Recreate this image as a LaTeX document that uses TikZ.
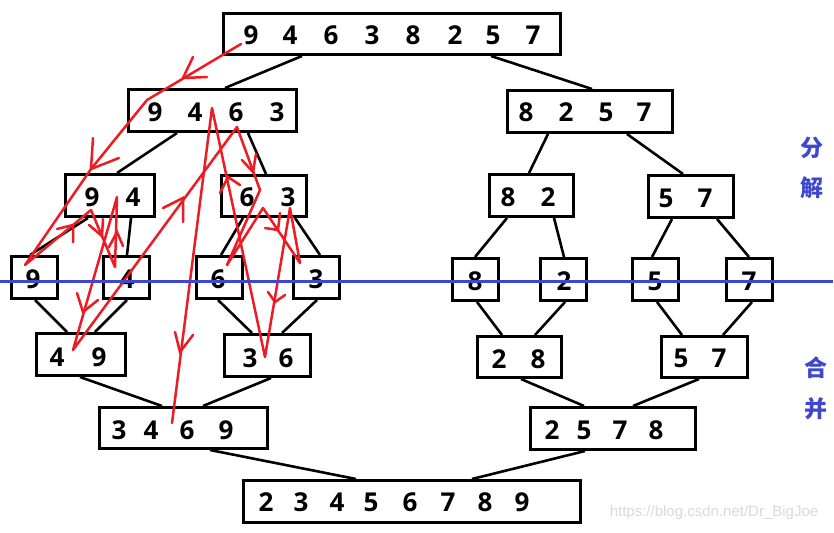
\documentclass[tikz,border=0pt]{standalone}
\usepackage{fontspec}
\setmainfont{Open Sans}
\newfontfamily\numfont{Open Sans}
\newfontfamily\cjkfont{Noto Sans CJK SC}
\newfontfamily\wmfont{Liberation Sans}
\definecolor{pred}{HTML}{ED1C24}
\definecolor{pblue}{HTML}{3F48CC}
\definecolor{wmgray}{HTML}{DADADA}
\newcommand\putdigits[3]{\foreach \d/\x in {#3} {\node[num] (#1\x) at (\x,#2) {\d};}}
\newcommand\chevron[3]{\draw[chev] #1 -- #2 -- #3;}
\begin{document}
\begin{tikzpicture}[x=1pt,y=-1pt,
  box/.style={draw,line width=3pt,inner sep=0pt},
  num/.style={inner sep=0pt,font=\numfont\bfseries\fontsize{26}{26}\selectfont},
  conn/.style={line width=2.6pt},
  trace/.style={pred,line width=2.5pt,line join=round,line cap=round},
  chev/.style={pred,line width=2.5pt,line join=miter,line cap=round},
  han/.style={pblue,inner sep=0pt,font=\cjkfont\bfseries\fontsize{23}{23}\selectfont}]
\useasboundingbox (0,0) rectangle (834,532);
\fill[white] (0,0) rectangle (834,532);

% boxes
\node[box,minimum width=337pt,minimum height=41pt] (top) at (392,34) {};
\node[box,minimum width=168pt,minimum height=42pt] (L) at (212.5,110.5) {};
\node[box,minimum width=165pt,minimum height=42pt] (R) at (590,111.5) {};
\node[box,minimum width=89pt,minimum height=42pt] (b94) at (110,195.5) {};
\node[box,minimum width=85pt,minimum height=41pt] (b63) at (264,196) {};
\node[box,minimum width=84pt,minimum height=42pt] (b82) at (531.5,195.5) {};
\node[box,minimum width=85pt,minimum height=42pt] (b57) at (691,196.5) {};
\node[box,minimum width=46pt,minimum height=42pt] (n9) at (34.5,277.5) {};
\node[box,minimum width=46pt,minimum height=42pt] (n4) at (126.5,277.5) {};
\node[box,minimum width=46pt,minimum height=42pt] (n6) at (219.5,277.5) {};
\node[box,minimum width=46pt,minimum height=42pt] (n3) at (316.5,277.5) {};
\node[box,minimum width=46pt,minimum height=42pt] (n8) at (475.5,279.5) {};
\node[box,minimum width=46pt,minimum height=42pt] (n2) at (563.5,279.5) {};
\node[box,minimum width=46pt,minimum height=42pt] (n5) at (655.5,279.5) {};
\node[box,minimum width=46pt,minimum height=42pt] (n7) at (749.5,279.5) {};
\node[box,minimum width=89pt,minimum height=42pt] (m49) at (81,354.5) {};
\node[box,minimum width=86pt,minimum height=42pt] (m36) at (267.5,355.5) {};
\node[box,minimum width=84pt,minimum height=41pt] (m28) at (519.5,357) {};
\node[box,minimum width=86pt,minimum height=41pt] (m57) at (704.5,357) {};
\node[box,minimum width=168pt,minimum height=41pt] (a3469) at (183.5,428) {};
\node[box,minimum width=165pt,minimum height=42pt] (a2578) at (613,428.5) {};
\node[box,minimum width=337pt,minimum height=42pt] (fin) at (412,501.5) {};

% digits
\putdigits{t}{35.5}{9/251,4/290,6/331,3/372,8/413,2/455,5/493,7/533}
\putdigits{l}{112}{9/155,4/195,6/236,3/277}
\putdigits{r}{112}{8/526,2/566,5/606,7/644}
\putdigits{p}{197}{9/92,4/133,6/247,3/288,8/508,2/548}
\putdigits{q}{198}{5/666,7/705}
\putdigits{s}{279}{9/33,4/127,6/218,3/316}
\putdigits{u}{281}{8/475,2/564,5/655,7/749}
\putdigits{v}{357}{4/57,9/99}
\putdigits{w}{358}{3/250,6/286,5/681,7/719}
\putdigits{x}{359}{2/499,8/538}
\putdigits{y}{430}{3/119,4/151,6/187,9/226,2/552,5/584,7/620,8/656}
\putdigits{z}{502}{2/266,3/301,4/337,5/371,6/410,7/448,8/485,9/522}

% connectors
\draw[conn] ([xshift=-90pt]top.south) -- ([xshift=12.5pt]L.north);
\draw[conn] ([xshift=99pt]top.south) -- ([xshift=2pt]R.north);
\draw[conn] ([xshift=-35.5pt]L.south) -- ([xshift=7pt]b94.north);
\draw[conn] ([xshift=35.5pt]L.south) -- ([xshift=2pt]b63.north);
\draw[conn] ([xshift=-42pt]R.south) -- ([xshift=-2.5pt]b82.north);
\draw[conn] ([xshift=37pt]R.south) -- ([xshift=-8pt]b57.north);
\draw[conn] ([xshift=-22pt]b94.south) -- ([xshift=-4.5pt]n9.north);
\draw[conn] ([xshift=21pt]b94.south) -- ([xshift=0.5pt]n4.north);
\draw[conn] ([xshift=-21pt]b63.south) -- ([xshift=1.5pt]n6.north);
\draw[conn] ([xshift=31pt]b63.south) -- ([xshift=3.5pt]n3.north);
\draw[conn] ([xshift=-24.5pt]b82.south) -- ([xshift=-0.5pt]n8.north);
\draw[conn] ([xshift=22.5pt]b82.south) -- ([xshift=0.5pt]n2.north);
\draw[conn] ([xshift=-19pt]b57.south) -- ([xshift=-3.5pt]n5.north);
\draw[conn] ([xshift=26pt]b57.south) -- ([xshift=-0.5pt]n7.north);
\draw[conn] ([xshift=0.5pt]n9.south) -- ([xshift=-14pt]m49.north);
\draw[conn] ([xshift=0.5pt]n4.south) -- ([xshift=14pt]m49.north);
\draw[conn] ([xshift=-1.5pt]n6.south) -- ([xshift=-15.5pt]m36.north);
\draw[conn] ([xshift=0.5pt]n3.south) -- ([xshift=14.5pt]m36.north);
\draw[conn] ([xshift=1.5pt]n8.south) -- ([xshift=-17.5pt]m28.north);
\draw[conn] ([xshift=1.5pt]n2.south) -- ([xshift=15.5pt]m28.north);
\draw[conn] ([xshift=1.5pt]n5.south) -- ([xshift=-22.5pt]m57.north);
\draw[conn] ([xshift=2.5pt]n7.south) -- ([xshift=18.5pt]m57.north);
\draw[conn] ([xshift=-1pt]m49.south) -- ([xshift=-21.5pt]a3469.north);
\draw[conn] ([xshift=3.5pt]m36.south) -- ([xshift=19.5pt]a3469.north);
\draw[conn] ([xshift=1.5pt]m28.south) -- ([xshift=-29pt]a2578.north);
\draw[conn] ([xshift=-5.5pt]m57.south) -- ([xshift=20pt]a2578.north);
\draw[conn] ([xshift=26.5pt]a3469.south) -- ([xshift=-56pt]fin.north);
\draw[conn] ([xshift=-28pt]a2578.south) -- ([xshift=60pt]fin.north);

% red trace of the recursion
\draw[trace] (241,44) -- (147,100) -- (91,169) -- (25,265) -- (91,210) -- (115,267)
  -- (117,197) -- (73,350) -- (237,127) -- (260,190) -- (227,265) -- (263,208)
  -- (300,263) -- (290,208) -- (265,357) -- (212,108) -- (172,423);
\chevron{(193,57)}{(183,78)}{(207,77)}
\chevron{(93,138)}{(91,169)}{(119,158)}
\chevron{(57,229)}{(73,225)}{(73,242)}
\chevron{(89,225)}{(102,236)}{(103,219)}
\chevron{(109,247)}{(117,232)}{(123,246)}
\chevron{(77,293)}{(83,312)}{(98,300)}
\chevron{(163,208)}{(183,198)}{(183,222)}
\chevron{(242,160)}{(253,172)}{(256,154)}
\chevron{(265,228)}{(278,230)}{(280,213)}
\chevron{(268,292)}{(275,302)}{(285,295)}
\chevron{(220,193)}{(228,177)}{(240,185)}
\chevron{(175,332)}{(180,352)}{(193,335)}

% split / merge line
\draw[pblue,line width=3pt] (0,281.5) -- (833,281.5);

% side labels
\node[han] (fen) at (812,148) {分};
\node[han] (jie) at (812,188) {解};
\node[han] (he) at (816,368) {合};
\node[han] (bing) at (816,409) {并};

% watermark
\node[inner sep=0pt,text=wmgray,font=\wmfont\fontsize{15}{15}\selectfont] (wm) at (714,513) {https://blog.csdn.net/Dr\_BigJoe};
\end{tikzpicture}
\end{document}
